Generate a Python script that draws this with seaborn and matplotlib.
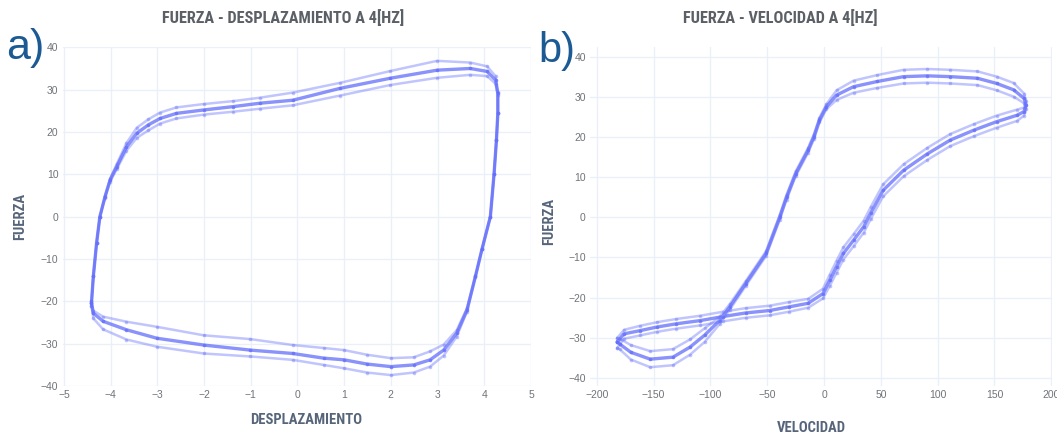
import matplotlib
matplotlib.use("Agg")
import matplotlib.pyplot as plt
import seaborn as sns
import pandas as pd

# ---- a) fuerza - desplazamiento (tres ciclos leidos de la banda) ----
desplazamiento = [-4.41, -4.37, -4.30, -4.23, -4.12, -4.01, -3.87, -3.66, -3.44, -3.19,
                  -2.94, -2.59, -2.01, -1.37, -0.80, -0.10, 0.91, 1.99, 2.99, 3.70,
                  4.06, 4.24, 4.29, 4.29, 4.26, 4.21, 4.13, 3.95, 3.81, 3.63,
                  3.41, 3.13, 2.84, 2.49, 2.00, 1.49, 1.00, 0.56, -0.10, -1.01,
                  -2.01, -3.01, -3.66, -4.16, -4.37, -4.41]
fuerza_d_medio = [-20.4, -14.1, -6.2, 0.0, 4.7, 8.7, 11.8, 16.5, 19.7, 21.7,
                  23.2, 24.4, 25.2, 26.0, 26.8, 27.5, 30.3, 32.7, 34.6, 35.0,
                  34.3, 32.3, 29.1, 24.4, 18.1, 10.2, 0.0, -7.7, -14.1, -22.0,
                  -27.5, -31.5, -33.8, -35.0, -35.4, -34.8, -33.8, -33.4, -32.3, -31.5,
                  -30.3, -28.7, -26.7, -24.7, -22.8, -20.4]
fuerza_d_alto = [-20.0, -14.1, -6.2, 0.0, 4.9, 9.0, 12.4, 17.4, 21.0, 23.0,
                 24.6, 25.8, 26.6, 27.3, 28.1, 29.3, 31.6, 34.4, 36.8, 36.4,
                 35.5, 33.2, 29.4, 24.4, 18.1, 10.2, 0.0, -7.7, -14.0, -21.6,
                 -26.8, -30.2, -31.8, -33.2, -33.4, -32.6, -31.5, -31.0, -30.3, -28.9,
                 -28.0, -26.0, -24.8, -23.6, -22.2, -20.0]
fuerza_d_bajo = [-21.0, -14.1, -6.2, 0.0, 4.5, 8.3, 11.2, 15.6, 18.6, 20.4,
                 22.0, 23.2, 24.1, 24.8, 25.5, 26.3, 28.6, 31.1, 32.8, 33.5,
                 33.2, 31.4, 28.8, 24.4, 18.1, 10.2, 0.0, -7.7, -14.2, -22.4,
                 -28.3, -32.8, -35.4, -36.8, -37.4, -36.8, -35.8, -35.0, -33.8, -33.0,
                 -32.3, -30.7, -29.0, -26.6, -24.0, -21.0]

# ---- b) fuerza - velocidad ----
velocidad = [-182, -176, -162, -147, -130, -109, -89, -69, -48, -31,
             -14, -1, 5, 11, 17, 26, 35, 41, 52, 70,
             91, 111, 132, 152, 170, 176, 178, 176, 167, 152,
             135, 111, 91, 70, 47, 26, 11, 2, -4, -9,
             -14, -25, -33, -39, -51, -69, -83, -92, -105, -118,
             -133, -153, -170, -180, -182]
fuerza_v_medio = [-31.0, -29.0, -28.2, -27.3, -26.5, -25.7, -24.7, -23.8, -23.2, -22.3,
                  -21.4, -19.0, -15.7, -12.3, -9.0, -5.7, -2.3, 1.0, 6.7, 11.7,
                  15.8, 19.2, 21.7, 23.8, 25.4, 26.3, 27.9, 29.6, 31.7, 33.3,
                  34.6, 35.0, 35.2, 35.0, 33.8, 32.5, 30.4, 27.5, 24.2, 20.0,
                  16.7, 10.8, 5.0, 0.0, -9.0, -16.5, -22.3, -25.7, -29.3, -32.3,
                  -34.8, -35.3, -33.6, -31.5, -31.0]
fuerza_v_alto = [-30.0, -28.0, -27.0, -26.1, -25.3, -24.5, -23.5, -22.6, -22.0, -21.1,
                 -20.3, -17.8, -14.3, -10.8, -7.5, -4.2, -0.8, 2.5, 8.2, 13.2,
                 17.3, 20.7, 23.2, 25.3, 26.8, 27.3, 28.9, 30.8, 33.4, 35.0,
                 36.3, 36.7, 36.9, 36.7, 35.4, 34.0, 31.6, 28.1, 24.8, 20.6,
                 17.3, 11.4, 5.6, 0.6, -8.4, -15.9, -21.6, -24.8, -27.6, -30.4,
                 -32.8, -33.3, -31.8, -30.2, -30.0]
fuerza_v_bajo = [-32.5, -30.2, -29.4, -28.5, -27.7, -26.9, -25.9, -25.0, -24.4, -23.5,
                 -22.5, -20.2, -17.1, -13.8, -10.5, -7.2, -3.8, -0.5, 5.2, 10.2,
                 14.3, 17.7, 20.2, 22.3, 24.0, 25.3, 26.9, 28.4, 30.0, 31.6,
                 32.9, 33.3, 33.5, 33.3, 32.2, 31.0, 29.2, 26.9, 23.6, 19.4,
                 16.1, 10.2, 4.4, -0.6, -9.6, -17.1, -23.0, -26.6, -31.0, -34.2,
                 -36.8, -37.3, -35.4, -32.8, -32.5]

d_ticks = [-5, -4, -3, -2, -1, 0, 1, 2, 3, 4, 5]
v_ticks = [-200, -150, -100, -50, 0, 50, 100, 150, 200]
f_ticks = [-40, -30, -20, -10, 0, 10, 20, 30, 40]

COLOR = "#636efa"
GRID = "#ebf0f8"
TICK_C = "#6f7378"
LABEL_C = "#56657a"
TITLE_C = "#5b5f66"
PANEL_C = "#1c5a94"
NARROW = ["Roboto Condensed", "Liberation Sans Narrow", "DejaVu Sans Condensed",
          "Liberation Sans", "DejaVu Sans"]

sns.set_theme(style="white")
plt.rcParams["font.family"] = ["Liberation Sans", "DejaVu Sans"]

fig = plt.figure(figsize=(10.57, 4.34), dpi=100)
W, H = 1057, 434


def box(x0, y0, x1, y1):
    return [x0 / W, 1 - y1 / H, (x1 - x0) / W, (y1 - y0) / H]


def draw_loop(ax, x, ciclos):
    for ys, lw, a in ciclos:
        df = pd.DataFrame({"x": x, "y": ys})
        sns.lineplot(data=df, x="x", y="y", sort=False, estimator=None, ax=ax,
                     color=COLOR, lw=lw, alpha=a, marker="o", markersize=2.6,
                     markeredgewidth=0)


def style_axes(ax, xt, yt):
    ax.set_xticks(xt)
    ax.set_yticks(yt)
    ax.grid(True, color=GRID, lw=1.0)
    for s in ax.spines.values():
        s.set_visible(False)
    ax.tick_params(axis="both", length=0, labelsize=7.5, labelcolor=TICK_C, pad=3)
    ax.set_xlabel("")
    ax.set_ylabel("")
    ax.set_axisbelow(True)


ax1 = fig.add_axes(box(62.5, 47.3, 531, 386.1))
draw_loop(ax1, desplazamiento, [(fuerza_d_alto, 1.8, 0.4), (fuerza_d_bajo, 1.8, 0.4),
                                (fuerza_d_medio, 2.4, 0.75)])
ax1.set_xlim(-5.03, 5.0)
ax1.set_ylim(-40, 40)
style_axes(ax1, d_ticks, f_ticks)

ax2 = fig.add_axes(box(590, 47.3, 1052.4, 386.1))
draw_loop(ax2, velocidad, [(fuerza_v_alto, 1.8, 0.4), (fuerza_v_bajo, 1.8, 0.4),
                           (fuerza_v_medio, 2.4, 0.75)])
ax2.set_xlim(-206, 201)
ax2.set_ylim(-42.0, 42.3)
style_axes(ax2, v_ticks, f_ticks)

# titulos y etiquetas
fig.text(283 / W, 1 - 18 / H, "FUERZA - DESPLAZAMIENTO A 4[HZ]", ha="center", va="center",
         fontsize=11.7, fontweight="bold", color=TITLE_C, family=NARROW)
fig.text(780 / W, 1 - 18 / H, "FUERZA - VELOCIDAD A 4[HZ]", ha="center", va="center",
         fontsize=11.7, fontweight="bold", color=TITLE_C, family=NARROW)
fig.text(306 / W, 1 - 420 / H, "DESPLAZAMIENTO", ha="center", va="center",
         fontsize=10.5, fontweight="bold", color=LABEL_C, family=NARROW)
fig.text(811 / W, 1 - 428 / H, "VELOCIDAD", ha="center", va="center",
         fontsize=10.5, fontweight="bold", color=LABEL_C, family=NARROW)
fig.text(20 / W, 1 - 216 / H, "FUERZA", ha="center", va="center", rotation=90,
         fontsize=10.5, fontweight="bold", color=LABEL_C, family=NARROW)
fig.text(549 / W, 1 - 221 / H, "FUERZA", ha="center", va="center", rotation=90,
         fontsize=10.5, fontweight="bold", color=LABEL_C, family=NARROW)
fig.text(6 / W, 1 - 48 / H, "a)", ha="left", va="center", fontsize=31, color=PANEL_C)
fig.text(538 / W, 1 - 51 / H, "b)", ha="left", va="center", fontsize=30, color=PANEL_C)

fig.savefig("out.png", dpi=100)
